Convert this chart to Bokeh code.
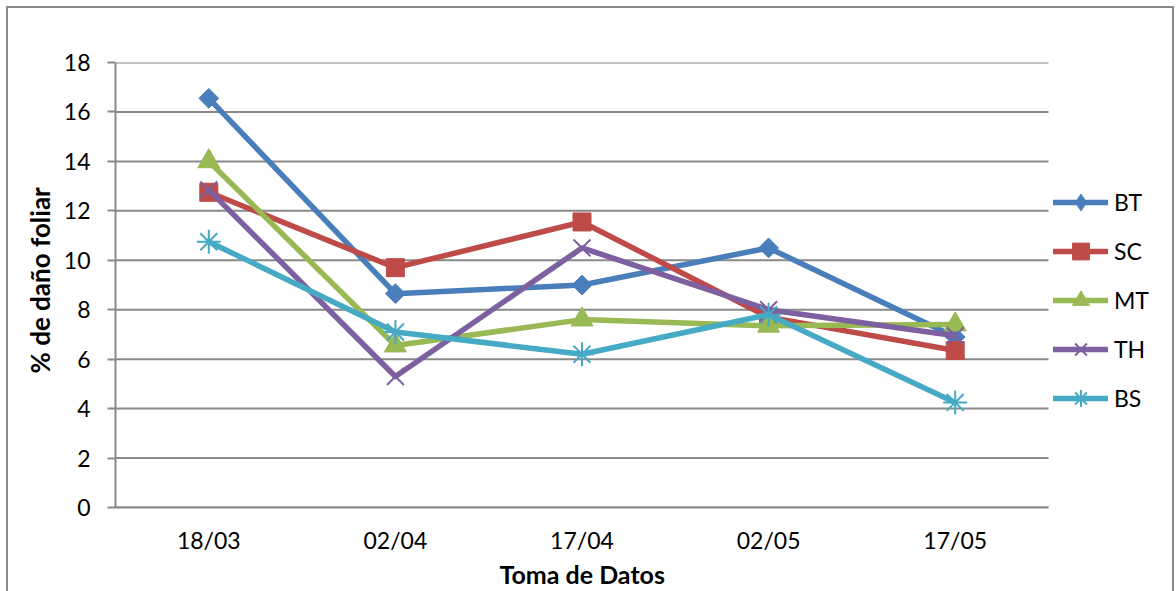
import math

from bokeh.embed import file_html
from bokeh.models import FixedTicker, Legend, LegendItem, Range1d, Title
from bokeh.plotting import figure
from bokeh.resources import INLINE

# Sampling dates (day/month)
dates = ["18/03", "02/04", "17/04", "02/05", "17/05"]

# % of leaf damage per treatment
bt = [16.55, 8.65, 9.0, 10.5, 6.9]
sc = [12.75, 9.7, 11.55, 7.7, 6.35]
mt = [14.0, 6.55, 7.6, 7.35, 7.4]
th = [12.85, 5.3, 10.5, 8.0, 6.95]
bs = [10.75, 7.1, 6.2, 7.8, 4.25]

y_ticks = [0, 2, 4, 6, 8, 10, 12, 14, 16, 18]

FONT = "Lato"
GRID = "#898989"

# category slots 0..n-1; each date occupies one unit-wide band
xs = list(range(len(dates)))
x_lo, x_hi = -0.5, len(dates) - 0.5

# chart border drawn as CSS background stripes (top, left, right)
stripe = f"linear-gradient({GRID},{GRID})"
border_css = ", ".join([
    f"{stripe} 6px 6px / 1168px 2px no-repeat",
    f"{stripe} 6px 6px / 2px 600px no-repeat",
    f"{stripe} 1172px 6px / 2px 600px no-repeat",
    "white",
])

# plot area is 933 px wide for the five bands; the frame continues to the
# right so that the legend can sit beside the bands
band_px = 933 / len(dates)
frame_px = 1176 - 115 - 6

p = figure(
    width=1176, height=591,
    x_range=Range1d(x_lo, x_lo + frame_px / band_px),
    y_range=Range1d(0, 18),
    output_backend="svg", toolbar_location=None,
    min_border_left=115, min_border_right=6,
    min_border_top=62, min_border_bottom=84,
    styles={"background": border_css},
)
p.outline_line_color = None
p.background_fill_color = "white"
p.border_fill_color = None

# horizontal grid lines limited to the category bands
p.xgrid.grid_line_color = None
p.ygrid.grid_line_color = None
p.segment(x0=x_lo, x1=x_hi, y0=y_ticks, y1=y_ticks,
          line_color=GRID, line_width=2)

# y axis
p.yaxis.ticker = FixedTicker(ticks=y_ticks)
p.yaxis.axis_line_color = GRID
p.yaxis.axis_line_width = 2
p.yaxis.major_tick_line_color = GRID
p.yaxis.major_tick_line_width = 2
p.yaxis.major_tick_out = 8
p.yaxis.major_tick_in = 0
p.yaxis.minor_tick_line_color = None
p.yaxis.major_label_standoff = 17

# x axis (category axis)
p.xaxis.ticker = FixedTicker(ticks=xs)
p.xaxis.major_label_overrides = {i: d for i, d in zip(xs, dates)}
p.xaxis.bounds = (x_lo, x_hi)
p.xaxis.axis_line_color = GRID
p.xaxis.axis_line_width = 2
p.xaxis.major_tick_line_color = None
p.xaxis.major_tick_out = 0
p.xaxis.major_tick_in = 0
p.xaxis.minor_tick_line_color = None
p.xaxis.major_label_standoff = 18

for ax in (p.xaxis, p.yaxis):
    ax.major_label_text_font = FONT
    ax.major_label_text_font_size = "23px"
    ax.major_label_text_color = "black"

# axis titles (offsets place them under the bands / beside the value axis)
p.add_layout(Title(text="Toma de Datos", align="left", offset=384,
                   text_font=FONT, text_font_size="25px",
                   text_font_style="bold", text_color="black",
                   standoff=0), "below")
p.add_layout(Title(text="% de daño foliar", align="left", offset=134,
                   text_font=FONT, text_font_size="26px",
                   text_font_style="bold", text_color="black",
                   standoff=10), "left")

# (label, values, colour, plot marker, legend marker)
series = [
    ("BT", bt, "#4A7EBB", dict(marker="square", size=14, angle=math.pi / 4, line_width=1), "diamond"),
    ("SC", sc, "#BE4B48", dict(marker="square", size=18, line_width=1), None),
    ("MT", mt, "#98B954", dict(marker="triangle", size=22, line_width=1), None),
    ("TH", th, "#7D60A0", dict(marker="x", size=24, line_width=2), None),
    ("BS", bs, "#46AAC5", dict(marker="asterisk", size=24, line_width=2), None),
]

items = []
for name, vals, color, mk, legend_marker in series:
    ln = p.line(xs, vals, line_color=color, line_width=5.5,
                line_join="round", line_cap="round")
    pts = p.scatter(xs, vals, fill_color=color, line_color=color, **mk)
    if legend_marker:
        # key glyph for the legend only (no plotted points)
        pts = p.scatter(xs, [float("nan")] * len(xs), marker=legend_marker,
                        fill_color=color, line_color=color)
    items.append(LegendItem(label=name, renderers=[ln, pts]))

legend = Legend(
    items=items, location=(938, 88),
    glyph_width=55, glyph_height=42, label_height=42,
    spacing=7, padding=0, margin=0, label_standoff=6,
    label_text_font=FONT, label_text_font_size="23px",
    label_text_color="black",
    border_line_color=None, background_fill_alpha=0,
)
p.add_layout(legend, "center")

open("out.html", "w").write(file_html(p, INLINE))
